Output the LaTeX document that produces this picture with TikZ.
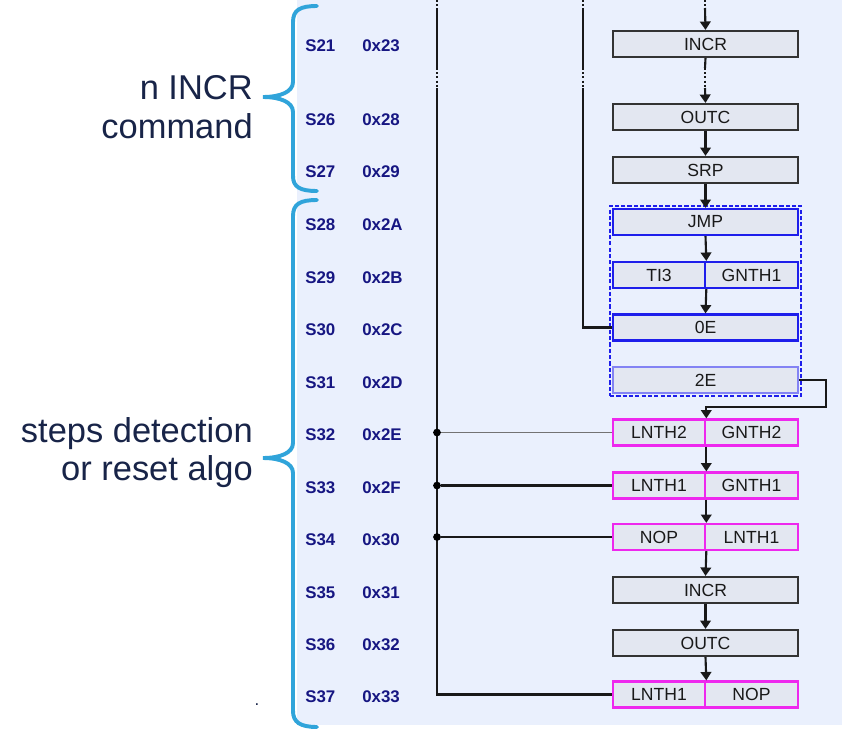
\documentclass[tikz,border=0pt]{standalone}
\usepackage{fontspec}
\setmainfont{Liberation Sans}
\usetikzlibrary{arrows.meta,fit}

\definecolor{bgblue}{RGB}{234,240,253}
\definecolor{boxfill}{RGB}{227,231,241}
\definecolor{cmdblue}{RGB}{30,30,235}
\definecolor{cmdpink}{RGB}{238,40,238}
\definecolor{labelnavy}{RGB}{22,22,130}
\definecolor{textnavy}{RGB}{24,36,72}
\definecolor{bracecol}{RGB}{48,164,218}

\begin{document}
\begin{tikzpicture}[x=0.025cm,y=-0.025cm,
cmdbox/.style={draw=black!80, fill=boxfill, line width=1.5pt, minimum width=4.625cm, minimum height=0.65cm, inner sep=0pt, text=black!90, font=\fontsize{12.5}{14}\selectfont},
halfbox/.style={cmdbox, minimum width=2.3125cm},
bluebox/.style={draw=cmdblue},
pinkbox/.style={draw=cmdpink},
groupbox/.style={draw=cmdblue, line width=1pt, dash pattern=on 3pt off 1.5pt, inner sep=1.4pt},
rowlabel/.style={anchor=west, inner sep=0pt, text=labelnavy, font=\bfseries\fontsize{12}{14}\selectfont},
bigtext/.style={anchor=north east, align=right, inner sep=0pt, text=textnavy, font=\fontsize{24.5}{27.5}\selectfont},
wire/.style={line width=1.5pt, draw=black!90},
thinwire/.style={line width=0.9pt, draw=black!55},
arr/.style={wire, -{Triangle[width=7.5pt,length=6pt]}},
dots/.style={wire, dash pattern=on 1.4pt off 1.6pt},
junction/.style={circle, fill=black, inner sep=0pt, minimum size=5.5pt},
brace/.style={line width=2.8pt, draw=bracecol, line cap=round}
]
    \useasboundingbox (0,0) rectangle (855,737);
    \fill[bgblue] (297,0) rectangle (842,725);

    \draw[brace] (317,6) .. controls (300,6) and (293,10) .. (293,22) -- (293,82)
        .. controls (293,92) and (280,97) .. (263,97) .. controls (280,97) and (293,102) .. (293,112)
        -- (293,176) .. controls (293,187) and (300,191) .. (317,191);
    \draw[brace] (317,200) .. controls (300,200) and (293,204) .. (293,216) -- (293,443)
        .. controls (293,453) and (280,458) .. (263,458) .. controls (280,458) and (293,463) .. (293,473)
        -- (293,711) .. controls (293,722) and (300,727) .. (317,727);

    \node[bigtext] (incrtxt) at (253,75) {n INCR\\command};
    \node[bigtext] (stepstxt) at (253,417) {steps detection\\or reset algo};
    \node[anchor=base, text=textnavy, font=\fontsize{12}{14}\selectfont] (dot) at (257,705) {.};

    \foreach \s/\h/\y in {21/23/46, 26/28/120, 27/29/172, 28/2A/225, 29/2B/278, 30/2C/330, 31/2D/383,
                          32/2E/435, 33/2F/488, 34/30/540, 35/31/593, 36/32/645, 37/33/697} {
        \node[rowlabel] (s\s) at (305,\y) {S\s};
        \node[rowlabel] (h\s) at (362,\y) {0x\h};
    }

    \node[cmdbox] (incr1) at (705.5,44) {INCR};
    \node[cmdbox] (outc1) at (705.5,117) {OUTC};
    \node[cmdbox] (srp) at (705.5,170) {SRP};
    \node[cmdbox,bluebox] (jmp) at (705.5,222) {JMP};
    \node[halfbox,bluebox] (ti3) at (659,275) {TI3};
    \node[halfbox,bluebox] (gnth1a) at (751.5,275) {GNTH1};
    \node[cmdbox,bluebox] (oe) at (705.5,327.5) {0E};
    \node[cmdbox,draw=cmdblue!55] (e2) at (705.5,380) {2E};
    \node[groupbox, fit=(jmp)(e2)] (grp) {};

    \node[halfbox,pinkbox] (lnth2) at (659,432.5) {LNTH2};
    \node[halfbox,pinkbox] (gnth2) at (751.5,432.5) {GNTH2};
    \node[halfbox,pinkbox] (lnth1a) at (659,485.5) {LNTH1};
    \node[halfbox,pinkbox] (gnth1b) at (751.5,485.5) {GNTH1};
    \node[halfbox,pinkbox] (nopa) at (659,537) {NOP};
    \node[halfbox,pinkbox] (lnth1b) at (751.5,537) {LNTH1};
    \node[cmdbox] (incr2) at (705.5,590) {INCR};
    \node[cmdbox] (outc2) at (705.5,643) {OUTC};
    \node[halfbox,pinkbox] (lnth1c) at (659,694.5) {LNTH1};
    \node[halfbox,pinkbox] (nopb) at (751.5,694.5) {NOP};

    \coordinate (a0) at (437,0);
    \coordinate (a1) at (437,8);
    \coordinate (a2) at (437,68);
    \coordinate (a3) at (437,88);
    \coordinate (b0) at (583,0);
    \coordinate (b1) at (583,8);
    \coordinate (b2) at (583,68);
    \coordinate (b3) at (583,88);
    \coordinate (t0) at (705,0);
    \coordinate (t1) at (705,8);
    \coordinate (m1) at (705,68);
    \coordinate (m2) at (705,88);
    \coordinate (loop) at (826,407);

    \draw[dots] (a0) -- (a1);
    \draw[wire] (a1) -- (a2);
    \draw[dots] (a2) -- (a3);
    \draw[wire] (a3) |- (lnth1c.west);
    \draw[dots] (b0) -- (b1);
    \draw[wire] (b1) -- (b2);
    \draw[dots] (b2) -- (b3);
    \draw[wire] (b3) |- (oe.west);

    \node[junction] (j32) at (437,432.5) {};
    \node[junction] (j33) at (437,485.5) {};
    \node[junction] (j34) at (437,537) {};
    \draw[thinwire] (j32) -- (lnth2.west);
    \draw[wire] (j33) -- (lnth1a.west);
    \draw[wire] (j34) -- (nopa.west);

    \draw[dots] (t0) -- (t1);
    \draw[arr] (t1) -- (incr1.north);
    \draw[wire] (incr1.south) -- (m1);
    \draw[dots] (m1) -- (m2);
    \draw[arr] (m2) -- (outc1.north);
    \draw[arr] (outc1.south) -- (srp.north);
    \draw[arr] (srp.south) -- (jmp.north);
    \draw[arr] (jmp.south) -- (ti3.north east);
    \draw[arr] (ti3.south east) -- (oe.north);
    \draw[arr] (e2.east) -| (loop) -| (lnth2.north east);
    \draw[arr] (lnth2.south east) -- (lnth1a.north east);
    \draw[arr] (lnth1a.south east) -- (nopa.north east);
    \draw[arr] (nopa.south east) -- (incr2.north);
    \draw[arr] (incr2.south) -- (outc2.north);
    \draw[arr] (outc2.south) -- (lnth1c.north east);
\end{tikzpicture}
\end{document}
